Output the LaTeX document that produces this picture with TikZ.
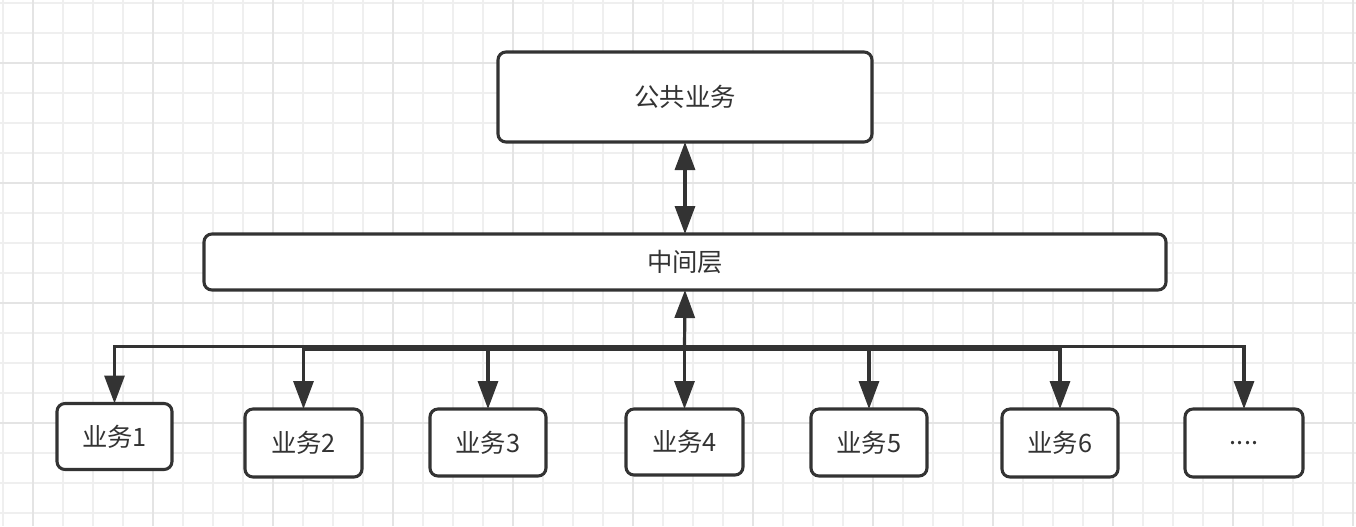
\documentclass[tikz,border=0pt]{standalone}
\usepackage{fontspec}
\setmainfont{Noto Sans CJK SC}
\usetikzlibrary{arrows.meta}
\definecolor{ink}{HTML}{333333}
\definecolor{gridminor}{HTML}{EFEFEF}
\definecolor{gridmajor}{HTML}{E4E4E4}
\tikzset{
  box/.style={draw=ink, line width=2.3pt, rounded corners=6pt, fill=white, text=ink,
    font=\fontsize{19}{22}\selectfont, inner sep=0pt, outer sep=0pt},
  conn/.style={draw=ink, line width=2.4pt},
  tip/.style={-{Triangle[length=21pt,width=15pt]}},
  minorline/.style={draw=gridminor, line width=1pt},
  majorline/.style={draw=gridmajor, line width=1.2pt}
}
\begin{document}
\begin{tikzpicture}[x=0.75pt,y=-0.75pt]
\useasboundingbox (0,0) rectangle (1356,526);
\fill[white] (0,0) rectangle (1356,526);
\foreach \i in {0,...,45} \draw[minorline] ({3+30*\i},0) -- ({3+30*\i},526);
\foreach \i in {0,...,17} \draw[minorline] (0,{3+30*\i}) -- (1356,{3+30*\i});
\foreach \i in {0,...,11} \draw[majorline] ({33+120*\i},0) -- ({33+120*\i},526);
\foreach \i in {0,...,3} \draw[majorline] (0,{63+120*\i}) -- (1356,{63+120*\i});

\node[box, minimum width=280.5pt, minimum height=67.5pt] (top) at (685,97) {公共业务};
\node[box, minimum width=721.5pt, minimum height=42pt] (mid) at (685,262) {中间层};
\node[box, minimum width=86.25pt, minimum height=49.5pt] (b1) at (114.5,436.5) {业务1};
\node[box, minimum width=87.75pt, minimum height=51pt] (b2) at (303.5,443) {业务2};
\node[box, minimum width=87pt, minimum height=50.25pt] (b3) at (488,442.5) {业务3};
\node[box, minimum width=87.75pt, minimum height=49.5pt] (b4) at (684.5,442) {业务4};
\node[box, minimum width=87pt, minimum height=50.25pt] (b5) at (869,442.5) {业务5};
\node[box, minimum width=87pt, minimum height=51pt] (b6) at (1060,443) {业务6};
\node[box, minimum width=88.5pt, minimum height=51pt] (b7) at (1244,443) {....};

\draw[conn, {Triangle[length=21pt,width=15pt]}-{Triangle[length=21pt,width=15pt]}] (top.south) -- (mid.north);

\coordinate (j) at (684.5,348);
\coordinate (ja) at (684.5,346.5);
\coordinate (jb) at (684.5,349);
\draw[conn, tip] (j) -- (mid.south);
\draw[conn, tip] (ja) -| (b1.north);
\draw[conn, tip] (jb) -| (b2.north);
\draw[conn, tip] (jb) -| (b3.north);
\draw[conn, tip] (j) -- (b4.north);
\draw[conn, tip] (jb) -| (b5.north);
\draw[conn, tip] (jb) -| (b6.north);
\draw[conn, tip] (ja) -| (b7.north);
\end{tikzpicture}
\end{document}
